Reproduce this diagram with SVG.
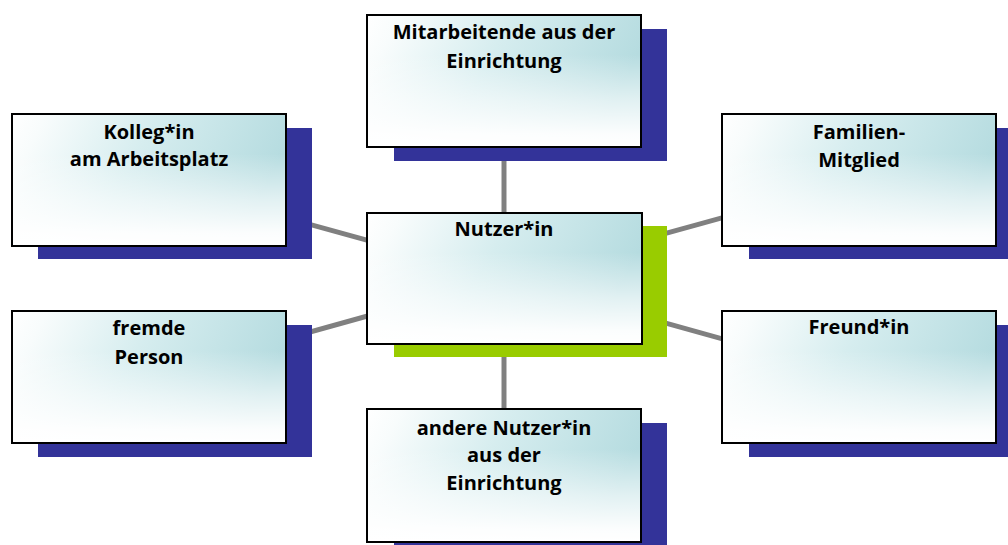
<svg xmlns="http://www.w3.org/2000/svg" width="1008" height="545" viewBox="0 0 1008 545">
<style>
.box{fill:url(#gh)}
.ov{fill:url(#gv);stroke:#000;stroke-width:2}
.sh{fill:#333399}
.shg{fill:#99cc00}
.t{font-family:"Open Sans","Liberation Sans",sans-serif;font-weight:bold;font-size:20px;fill:#000;text-anchor:middle}
.c{stroke:#808080;stroke-width:5;fill:none}
</style>
<defs>
<linearGradient id="gh" x1="0" y1="0" x2="1" y2="0.25">
<stop offset="0" stop-color="#ffffff"/>
<stop offset="0.12" stop-color="#f8fcfc"/>
<stop offset="0.5" stop-color="#d6edef"/>
<stop offset="1" stop-color="#b6dce0"/>
</linearGradient>
<linearGradient id="gv" x1="0" y1="0" x2="0" y2="1">
<stop offset="0" stop-color="#ffffff" stop-opacity="0"/>
<stop offset="0.3" stop-color="#ffffff" stop-opacity="0"/>
<stop offset="0.65" stop-color="#ffffff" stop-opacity="0.6"/>
<stop offset="0.9" stop-color="#ffffff" stop-opacity="0.95"/>
<stop offset="1" stop-color="#ffffff" stop-opacity="1"/>
</linearGradient>
</defs>
<rect width="1008" height="545" fill="#fff"/>
<g id="connectors">
<line class="c" x1="504" y1="150" x2="504" y2="220"/>
<line class="c" x1="504" y1="340" x2="504" y2="415"/>
<line class="c" x1="149" y1="180" x2="504" y2="278"/>
<line class="c" x1="149" y1="377" x2="504" y2="278"/>
<line class="c" x1="859" y1="180" x2="504" y2="278"/>
<line class="c" x1="859" y1="377" x2="504" y2="278"/>
</g>
<g id="mitarbeitende">
<rect class="sh" x="394" y="29" width="273" height="132"/>
<rect class="box" x="367" y="15" width="274" height="132"/>
<rect class="ov" x="367" y="15" width="274" height="132"/>
<text class="t" x="504" y="39">Mitarbeitende aus der</text>
<text class="t" x="504" y="68">Einrichtung</text>
</g>
<g id="kollegin">
<rect class="sh" x="38" y="128" width="274" height="131"/>
<rect class="box" x="12" y="114" width="274" height="132"/>
<rect class="ov" x="12" y="114" width="274" height="132"/>
<text class="t" x="149" y="139">Kolleg*in</text>
<text class="t" x="149" y="166">am Arbeitsplatz</text>
</g>
<g id="familie">
<rect class="sh" x="749" y="128" width="274" height="131"/>
<rect class="box" x="722" y="114" width="274" height="132"/>
<rect class="ov" x="722" y="114" width="274" height="132"/>
<text class="t" x="859" y="139">Familien-</text>
<text class="t" x="859" y="167">Mitglied</text>
</g>
<g id="nutzerin">
<rect class="shg" x="394" y="226" width="273" height="131"/>
<rect class="box" x="367" y="213" width="275" height="131"/>
<rect class="ov" x="367" y="213" width="275" height="131"/>
<text class="t" x="504" y="236">Nutzer*in</text>
</g>
<g id="fremde">
<rect class="sh" x="38" y="325" width="274" height="132"/>
<rect class="box" x="12" y="311" width="274" height="132"/>
<rect class="ov" x="12" y="311" width="274" height="132"/>
<text class="t" x="149" y="335">fremde</text>
<text class="t" x="149" y="364">Person</text>
</g>
<g id="freundin">
<rect class="sh" x="749" y="325" width="274" height="132"/>
<rect class="box" x="722" y="311" width="274" height="132"/>
<rect class="ov" x="722" y="311" width="274" height="132"/>
<text class="t" x="859" y="334">Freund*in</text>
</g>
<g id="andere">
<rect class="sh" x="394" y="423" width="273" height="132"/>
<rect class="box" x="367" y="409" width="274" height="133"/>
<rect class="ov" x="367" y="409" width="274" height="133"/>
<text class="t" x="504" y="435">andere Nutzer*in</text>
<text class="t" x="504" y="462">aus der</text>
<text class="t" x="504" y="490">Einrichtung</text>
</g>
</svg>
